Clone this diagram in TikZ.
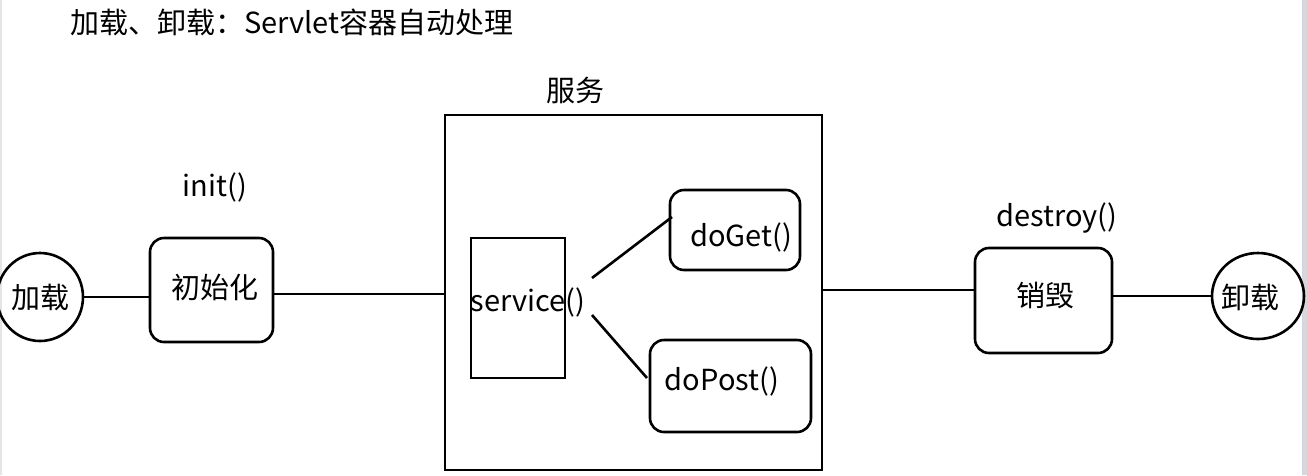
\documentclass[tikz,border=0pt]{standalone}
\usepackage{fontspec}
\setmainfont{Noto Sans CJK SC}
\usetikzlibrary{shapes.geometric}
\tikzset{
  ln/.style={line width=2.6pt, black},
  rbox/.style={draw, line width=2.6pt, rounded corners=14pt, inner sep=0pt},
  sbox/.style={draw, line width=2.6pt, inner sep=0pt},
  ell/.style={draw, ellipse, line width=2.6pt, inner sep=0pt},
  lbl/.style={font=\fontsize{29}{33}\selectfont, inner sep=0pt},
}
\begin{document}
\begin{tikzpicture}[x=1pt,y=-1pt]
\useasboundingbox (0,0) rectangle (1307,475);
\fill[white] (0,0) rectangle (1307,475);
\fill[gray!20] (0,0) rectangle (2,475);
\fill[blue!8!gray!30] (1302,0) rectangle (1307,475);
% title
\node[lbl, anchor=west] (title) at (70,22) {加载、卸载：Servlet容器自动处理};
% left circle
\node[ell, minimum width=86pt, minimum height=88pt] (load) at (40,297) {};
\node[lbl] (loadt) at (40,297) {加载};
% init box
\node[rbox, minimum width=123pt, minimum height=104pt] (init) at (211.5,290) {};
\node[lbl] (initt) at (215,287) {初始化};
\node[lbl] (initl) at (215,187) {init()};
% big service box
\node[sbox, minimum width=377pt, minimum height=355pt] (svc) at (633.5,292.5) {};
\node[lbl] (svcl) at (575,90) {服务};
\node[sbox, minimum width=94pt, minimum height=140pt] (srect) at (518,308) {};
\node[lbl] (srectt) at (528,302) {service()};
\node[rbox, minimum width=130pt, minimum height=80pt] (get) at (735,230) {};
\node[lbl] (gett) at (741,237) {doGet()};
\node[rbox, minimum width=161pt, minimum height=92pt] (post) at (730.5,386) {};
\node[lbl] (postt) at (722,381) {doPost()};
\coordinate (s1) at (592,278);
\coordinate (g1) at (672,217);
\coordinate (s2) at (592,315);
\coordinate (p1) at (647,378);
% destroy box
\node[rbox, minimum width=137pt, minimum height=105pt] (des) at (1043.5,300.5) {};
\node[lbl] (dest) at (1045,295) {销毁};
\node[lbl] (desl) at (1057,218) {destroy()};
% right circle
\node[ell, minimum width=92pt, minimum height=86pt] (unl) at (1258,296) {};
\node[lbl] (unlt) at (1250,297) {卸载};
% connectors
\draw[ln] (load.east) -- (init.west |- load.east);
\draw[ln] (init.east |- 0,294) -- (svc.west |- 0,294);
\draw[ln] (s1) -- (g1);
\draw[ln] (s2) -- (p1);
\draw[ln] (svc.east |- 0,290) -- (des.west |- 0,290);
\draw[ln] (des.east |- 0,296) -- (unl.west);
\end{tikzpicture}
\end{document}
